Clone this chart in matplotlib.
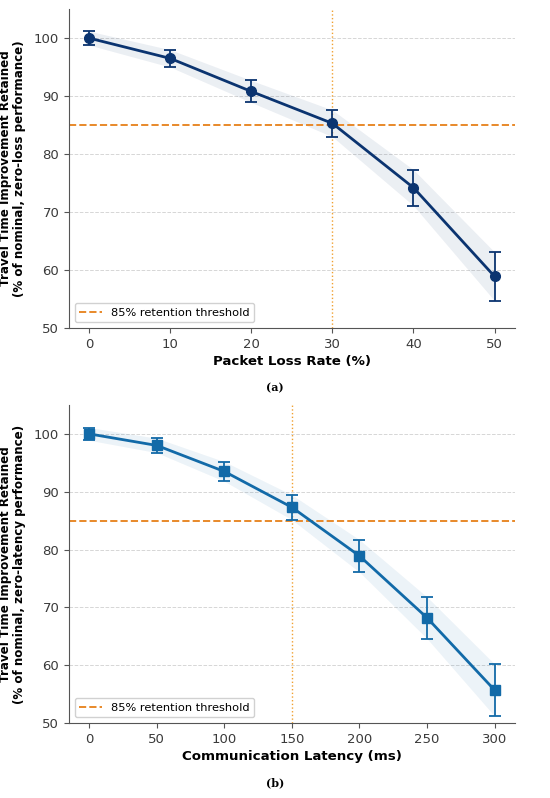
import matplotlib
matplotlib.use("Agg")
import matplotlib.pyplot as plt
import numpy as np

# Panel (a): packet loss
loss_rate = [0, 10, 20, 30, 40, 50]
loss_mean = [100.0, 96.5, 90.8, 85.3, 74.2, 58.9]
loss_err = [1.2, 1.5, 1.9, 2.3, 3.1, 4.2]

# Panel (b): latency
latency = [0, 50, 100, 150, 200, 250, 300]
lat_mean = [100.0, 98.0, 93.5, 87.3, 78.9, 68.2, 55.7]
lat_err = [1.1, 1.25, 1.7, 2.15, 2.8, 3.6, 4.5]

threshold = 85
yticks = [50, 60, 70, 80, 90, 100]

plt.rcParams['font.family'] = ['DejaVu Sans']

fig = plt.figure(figsize=(5.5, 7.98), dpi=100)
ax1 = fig.add_axes([0.1255, 0.589, 0.8105, 0.3995])
ax2 = fig.add_axes([0.1255, 0.094, 0.8105, 0.3985])

orange = '#e8892a'

def style(ax, x, y, e, color, marker, xlabel, ylabel, vline, xlim, ms):
    x = np.array(x); y = np.array(y); e = np.array(e)
    ax.fill_between(x, y - e, y + e, color=color, alpha=0.08, linewidth=0, zorder=1)
    ax.errorbar(x, y, yerr=e, color=color, marker=marker, markersize=ms, linewidth=2,
                capsize=4, capthick=1.3, elinewidth=1.3, zorder=3)
    ax.axhline(threshold, color=orange, linestyle='--', linewidth=1.4,
               label='85% retention threshold', zorder=2)
    ax.axvline(vline, color='#f0a030', linestyle=':', linewidth=1.0, zorder=2)
    ax.set_xlim(*xlim)
    ax.set_ylim(50, 105)
    ax.set_yticks(yticks)
    ax.set_xticks(x)
    ax.grid(axis='y', linestyle='--', color='#cccccc', linewidth=0.7, alpha=0.8)
    ax.set_axisbelow(True)
    for s in ['top', 'right']:
        ax.spines[s].set_visible(False)
    for s in ['left', 'bottom']:
        ax.spines[s].set_color('#555555')
    ax.tick_params(labelsize=9.5, colors='#555555', labelcolor='#3a3a3a')
    ax.set_xlabel(xlabel, fontsize=9.6, fontweight='bold', labelpad=3)
    ax.set_ylabel(ylabel, fontsize=8.6, fontweight='bold', labelpad=6,
                  linespacing=1.05)
    ax.legend(loc='lower left', fontsize=8.2, frameon=True, framealpha=0.9)

style(ax1, loss_rate, loss_mean, loss_err, '#0b3470', 'o',
      'Packet Loss Rate (%)',
      'Travel Time Improvement Retained\n(% of nominal, zero-loss performance)',
      30, (-2.5, 52.5), 7)
style(ax2, latency, lat_mean, lat_err, '#126aa8', 's',
      'Communication Latency (ms)',
      'Travel Time Improvement Retained\n(% of nominal, zero-latency performance)',
      150, (-15, 315), 7)

fig.text(0.5, 1 - 388 / 798, '(a)', ha='center', va='center', fontsize=8,
         fontweight='bold', family='DejaVu Serif')
fig.text(0.5, 1 - 783 / 798, '(b)', ha='center', va='center', fontsize=8,
         fontweight='bold', family='DejaVu Serif')

fig.savefig('out.png', dpi=100)
